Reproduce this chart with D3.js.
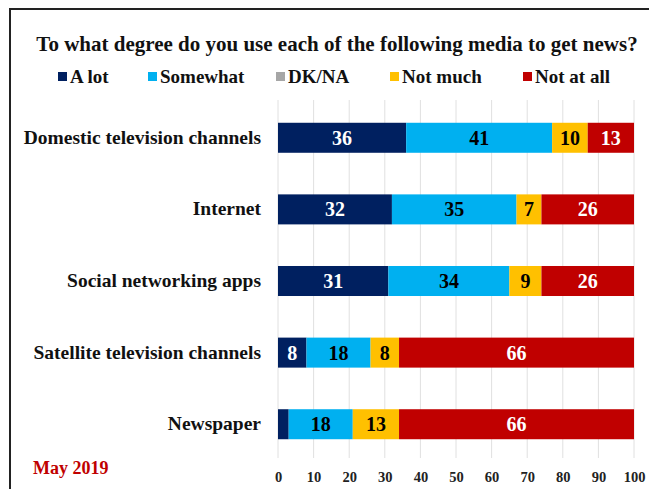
<!DOCTYPE html>
<html><head><meta charset="utf-8">
<script src="https://cdn.jsdelivr.net/npm/d3@7"></script>
<style>body{margin:0;background:#fff}svg{display:block}text{font-family:"Liberation Serif","Times New Roman",serif;font-weight:bold}</style>
</head><body><svg id="c" width="649" height="489"></svg>
<script>
const title = "To what degree do you use each of the following media to get news?";
const categories = ["Domestic television channels","Internet","Social networking apps","Satellite television channels","Newspaper"];
const seriesNames = ["A lot","Somewhat","DK/NA","Not much","Not at all"];
const aLot     = [36,32,31,8,3];
const somewhat = [41,35,34,18,18];
const dkna     = [0,0,0,0,0];
const notMuch  = [10,7,9,8,13];
const notAtAll = [13,26,26,66,66];
const ticks = [0,10,20,30,40,50,60,70,80,90,100];
const seriesColors = ["#002060","#00b0f0","#a6a6a6","#ffc000","#c00000"];
const labelColors = ["#fff","#000","#000","#000","#fff"];
const hideLabels = [[4,0]]; // newspaper "A lot" too small
const note = "May 2019";

const svg = d3.select("#c");
// frame
svg.append("rect").attr("x",10).attr("y",9).attr("width",660).attr("height",500)
  .attr("fill","none").attr("stroke","#222").attr("stroke-width",2);

svg.append("text").attr("x",337).attr("y",51).attr("text-anchor","middle")
  .attr("font-size",21).attr("fill","#111").text(title);

// legend
const legX = [58,148,276,390,523];
const legG = svg.append("g");
seriesNames.forEach((n,i)=>{
  legG.append("rect").attr("x",legX[i]).attr("y",72).attr("width",9).attr("height",9).attr("fill",seriesColors[i]);
  legG.append("text").attr("x",legX[i]+12).attr("y",83).attr("font-size",19).attr("fill","#111").text(n);
});

const x = d3.scaleLinear().domain([0,100]).range([278,634]);
const y = d3.scaleBand().domain(categories).range([102,460]).paddingInner(0.581).paddingOuter(0.29);

// gridlines
svg.append("g").selectAll("line").data(ticks).join("line")
  .attr("x1",d=>x(d)).attr("x2",d=>x(d)).attr("y1",100).attr("y2",458)
  .attr("stroke","#e0e0e0").attr("stroke-width",1);

// axis labels
const ax = svg.append("g").attr("transform","translate(0,472)")
  .call(d3.axisBottom(x).tickValues(ticks).tickSize(0).tickPadding(0));
ax.select(".domain").remove();
ax.selectAll("text").attr("font-size",14.5).attr("fill","#222")
  .attr("font-family","'Liberation Serif','Times New Roman',serif").attr("font-weight","bold");

// stacked data
const rows = categories.map((c,i)=>({cat:c, "A lot":aLot[i], "Somewhat":somewhat[i], "DK/NA":dkna[i], "Not much":notMuch[i], "Not at all":notAtAll[i]}));
const stack = d3.stack().keys(seriesNames)(rows);

const gBars = svg.append("g");
stack.forEach((s,si)=>{
  gBars.selectAll(null).data(s).join("rect")
    .attr("x",d=>x(d[0])).attr("width",d=>x(d[1])-x(d[0]))
    .attr("y",d=>y(d.data.cat)).attr("height",y.bandwidth())
    .attr("fill",seriesColors[si]);
  gBars.selectAll(null).data(s.map((d,ri)=>({d,ri}))
      .filter(o=>o.d[1]-o.d[0]>0 && !hideLabels.some(h=>h[0]===o.ri&&h[1]===si)))
    .join("text")
    .attr("x",o=>(x(o.d[0])+x(o.d[1]))/2).attr("y",o=>y(o.d.data.cat)+y.bandwidth()/2+7)
    .attr("text-anchor","middle").attr("font-size",20).attr("fill",labelColors[si])
    .text(o=>o.d[1]-o.d[0]);
});

// category labels
svg.append("g").selectAll("text").data(categories).join("text")
  .attr("x",261).attr("y",d=>y(d)+y.bandwidth()/2+6).attr("text-anchor","end")
  .attr("font-size",19.5).attr("fill","#111").text(d=>d);

svg.append("text").attr("x",33).attr("y",474).attr("font-size",18).attr("fill","#c00000").text(note);
</script></body></html>
